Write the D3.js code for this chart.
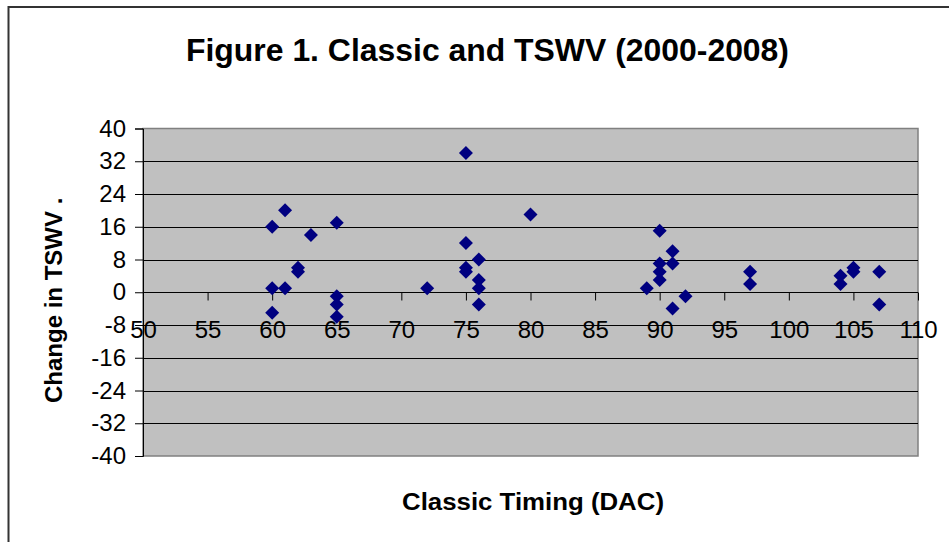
<!DOCTYPE html>
<html>
<head>
<meta charset="utf-8">
<script src="https://cdn.jsdelivr.net/npm/d3@7/dist/d3.min.js"></script>
<style>
  html, body { margin: 0; padding: 0; background: #fff; }
  svg { display: block; }
  text { font-family: Arial, "Liberation Sans", sans-serif; fill: #000; }
</style>
</head>
<body>
<svg id="chart" width="949" height="542"></svg>
<script>
// ---- data ----
const classicTiming = [60,60,60,61,61,62,62,63,65,65,65,65,72,75,75,75,75,76,76,76,76,80,89,90,90,90,90,91,91,91,92,97,97,104,104,105,105,107,107];
const tswvChange    = [16,1,-5,20,1,6,5,14,17,-1,-3,-6,1,34,12,6,5,8,3,1,-3,19,1,15,7,5,3,10,7,-4,-1,5,2,4,2,6,5,5,-3];
const xTickValues = [50,55,60,65,70,75,80,85,90,95,100,105,110];
const yTickValues = [-40,-32,-24,-16,-8,0,8,16,24,32,40];
const titleText = "Figure 1. Classic and TSWV (2000-2008)";
const xTitleText = "Classic Timing (DAC)";
const yTitleText = "Change in TSWV .";

const points = classicTiming.map((xv, i) => ({ x: xv, y: tswvChange[i] }));

const svg = d3.select("#chart");

// outer chart frame
svg.append("rect")
  .attr("x", 8.5).attr("y", 7).attr("width", 1100).attr("height", 1100)
  .attr("fill", "#fff").attr("stroke", "#333").attr("stroke-width", 2);

const pLeft = 143, pRight = 918, pTop = 128.5, pBottom = 456;
const x = d3.scaleLinear().domain([50, 110]).range([pLeft, pRight]);
const y = d3.scaleLinear().domain([-40, 40]).range([pBottom, pTop]);

// plot background
svg.append("rect")
  .attr("x", pLeft).attr("y", pTop).attr("width", pRight - pLeft).attr("height", pBottom - pTop)
  .attr("fill", "#c0c0c0").attr("stroke", "#808080").attr("stroke-width", 1.5);

// horizontal gridlines
svg.append("g").selectAll("line")
  .data(yTickValues.filter(v => v !== 40 && v !== -40))
  .join("line")
  .attr("x1", pLeft).attr("x2", pRight)
  .attr("y1", d => Math.round(y(d)) + 0.5).attr("y2", d => Math.round(y(d)) + 0.5)
  .attr("stroke", "#000").attr("stroke-width", 1);

const fmt = d => String(d);

// y axis
const yAxis = d3.axisLeft(y).tickValues(yTickValues).tickSize(8).tickPadding(9).tickFormat(fmt);
const gy = svg.append("g").attr("transform", `translate(${pLeft},0)`).call(yAxis);
gy.select(".domain").attr("stroke", "#000");
gy.selectAll(".tick line").attr("stroke", "#000");
gy.selectAll(".tick text").attr("font-size", 24).attr("font-family", "Arial, 'Liberation Sans', sans-serif").attr("fill", "#000");

// x axis crossing at y = 0
const xAxis = d3.axisBottom(x).tickValues(xTickValues).tickSize(8).tickPadding(20).tickFormat(fmt);
const gx = svg.append("g").attr("transform", `translate(0,${Math.round(y(0)) + 0.5})`).call(xAxis);
gx.select(".domain").attr("stroke", "#000").attr("d", `M${pLeft},0H${pRight}`);
gx.selectAll(".tick line").attr("stroke", "#000");
gx.selectAll(".tick text").attr("font-size", 24).attr("font-family", "Arial, 'Liberation Sans', sans-serif").attr("fill", "#000");

// diamonds
const diamond = d3.symbol().type(d3.symbolSquare).size(98);
svg.append("g").selectAll("path")
  .data(points)
  .join("path")
  .attr("d", diamond)
  .attr("transform", d => `translate(${x(d.x)},${y(d.y)}) rotate(45)`)
  .attr("fill", "#000080");

// titles
svg.append("text")
  .attr("x", 487.5).attr("y", 61)
  .attr("text-anchor", "middle")
  .attr("font-size", 31).attr("font-weight", "bold")
  .attr("textLength", 603).attr("lengthAdjust", "spacingAndGlyphs")
  .text(titleText);

svg.append("text")
  .attr("x", 533).attr("y", 510)
  .attr("text-anchor", "middle")
  .attr("font-size", 23).attr("font-weight", "bold")
  .attr("textLength", 262).attr("lengthAdjust", "spacingAndGlyphs")
  .text(xTitleText);

svg.append("text")
  .attr("transform", "translate(62,403) rotate(-90)")
  .attr("text-anchor", "start")
  .attr("font-size", 24).attr("font-weight", "bold")
  .text(yTitleText);
</script>
</body>
</html>
